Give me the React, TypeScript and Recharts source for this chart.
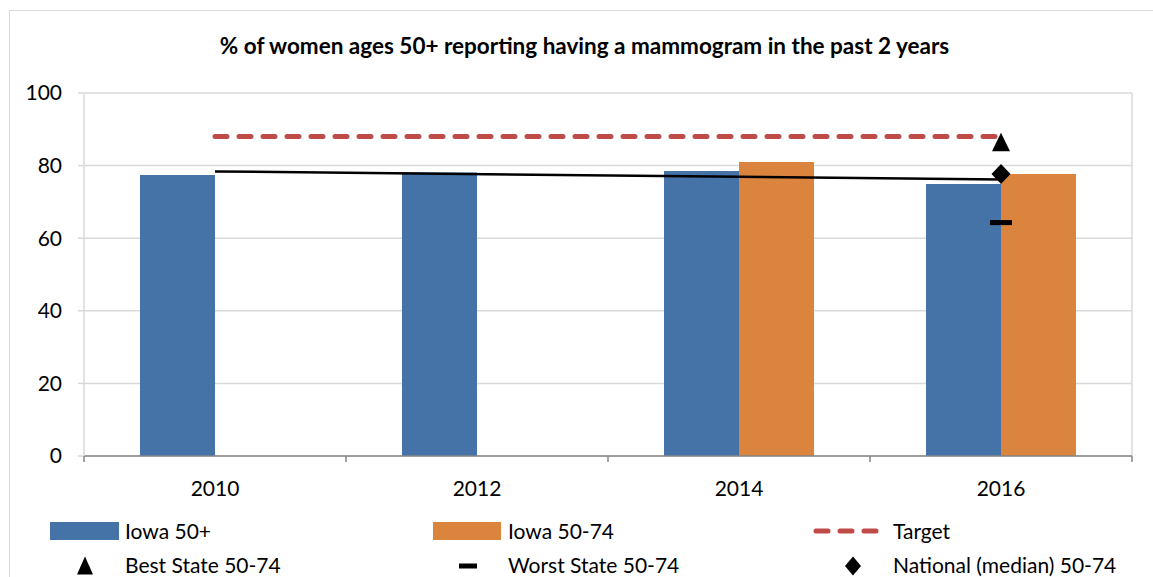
import { Bar, CartesianGrid, ComposedChart, Line, XAxis, YAxis } from "recharts";

const years = ["2010", "2012", "2014", "2016"];
const iowa50Plus = [77.4, 78.1, 78.5, 74.9];
const iowa5074: (number | null)[] = [null, null, 81.0, 77.7];
const target = [88, 88, 88, 88];
const trend: (number | null)[] = [78.4, null, null, 76.2];
const bestState: (number | null)[] = [null, null, null, 86.4];
const worstState: (number | null)[] = [null, null, null, 64.3];
const nationalMedian: (number | null)[] = [null, null, null, 77.7];
const yTicks = [0, 20, 40, 60, 80, 100];

const chartData = years.map((year, i) => ({
  year,
  iowa50Plus: iowa50Plus[i],
  iowa5074: iowa5074[i],
  target: target[i],
  trend: trend[i],
  best: bestState[i],
  worst: worstState[i],
  national: nationalMedian[i],
}));

const WIDTH = 1153;
const HEIGHT = 577;
const MARGIN = { top: 93, right: 21, bottom: 81, left: 24 };
const Y_AXIS_WIDTH = 60;
const PLOT_WIDTH = WIDTH - MARGIN.left - MARGIN.right - Y_AXIS_WIDTH;
const HALF_BAND = PLOT_WIDTH / years.length / 2;

const FONT = "Lato, 'Open Sans', sans-serif";
const BLUE = "#4673a7";
const ORANGE = "#db843d";
const RED = "#be4b48";
const GRID = "#d9d9d9";

function YearTick(props: any) {
  const { x, y, payload, index } = props;
  return (
    <g>
      <line x1={x - HALF_BAND} x2={x - HALF_BAND} y1={y} y2={y + 6} stroke="#868686" strokeWidth={1.5} />
      {index === years.length - 1 && (
        <line x1={x + HALF_BAND} x2={x + HALF_BAND} y1={y} y2={y + 6} stroke="#868686" strokeWidth={1.5} />
      )}
      <text x={x} y={y + 40} textAnchor="middle" fontSize={21} fontFamily={FONT} fill="#000">
        {payload.value}
      </text>
    </g>
  );
}

function isEmpty(props: any) {
  return props.value == null || props.cx == null || props.cy == null;
}

function Triangle(props: any) {
  if (isEmpty(props)) return <g key={props.index} />;
  const { cx, cy } = props;
  return (
    <path key={props.index} d={`M${cx},${cy - 9.5} L${cx + 9},${cy + 9} L${cx - 9},${cy + 9} Z`} fill="#000" />
  );
}

function Dash(props: any) {
  if (isEmpty(props)) return <g key={props.index} />;
  const { cx, cy } = props;
  return <rect key={props.index} x={cx - 11} y={cy - 2.5} width={22} height={5} fill="#000" />;
}

function Diamond(props: any) {
  if (isEmpty(props)) return <g key={props.index} />;
  const { cx, cy } = props;
  return (
    <path key={props.index} d={`M${cx},${cy - 10} L${cx + 9.5},${cy} L${cx},${cy + 10} L${cx - 9.5},${cy} Z`} fill="#000" />
  );
}

const legendText: React.CSSProperties = {
  position: "absolute",
  fontFamily: FONT,
  fontSize: 21,
  lineHeight: "20px",
  color: "#000",
  whiteSpace: "nowrap",
};

function LegendBlock() {
  return (
    <>
      <div style={{ position: "absolute", left: 50, top: 522, width: 69, height: 18, background: BLUE }} />
      <div style={{ ...legendText, left: 125, top: 521 }}>Iowa 50+</div>

      <div style={{ position: "absolute", left: 433, top: 522, width: 68, height: 18, background: ORANGE }} />
      <div style={{ ...legendText, left: 508, top: 521 }}>Iowa 50-74</div>

      <svg style={{ position: "absolute", left: 810, top: 525 }} width={72} height={12}>
        <line x1={6} x2={66} y1={6} y2={6} stroke={RED} strokeWidth={5} strokeDasharray="12 12" strokeLinecap="round" />
      </svg>
      <div style={{ ...legendText, left: 893, top: 521 }}>Target</div>

      <svg style={{ position: "absolute", left: 75, top: 556 }} width={20} height={20}>
        <path d="M10,0.5 L18,18.5 L2,18.5 Z" fill="#000" />
      </svg>
      <div style={{ ...legendText, left: 125, top: 555 }}>Best State 50-74</div>

      <svg style={{ position: "absolute", left: 458, top: 556 }} width={20} height={20}>
        <rect x={1} y={7.5} width={18} height={5} fill="#000" />
      </svg>
      <div style={{ ...legendText, left: 508, top: 555 }}>Worst State 50-74</div>

      <svg style={{ position: "absolute", left: 843, top: 556 }} width={20} height={20}>
        <path d="M10,0.5 L18,10 L10,19.5 L2,10 Z" fill="#000" />
      </svg>
      <div style={{ ...legendText, left: 893, top: 555 }}>National (median) 50-74</div>
    </>
  );
}

export default function App() {
  return (
    <div
      style={{
        position: "absolute",
        left: 0,
        top: 0,
        width: WIDTH,
        height: HEIGHT,
        overflow: "hidden",
        background: "#fff",
      }}
    >
      <div
        style={{
          position: "absolute",
          left: 9,
          top: 10,
          width: 1170,
          height: 620,
          border: `1.5px solid ${GRID}`,
        }}
      />
      <div
        style={{
          position: "absolute",
          left: 0,
          top: 32,
          width: 1169,
          textAlign: "center",
          fontFamily: FONT,
          fontWeight: 700,
          fontSize: 22.5,
          lineHeight: "28px",
          color: "#000",
        }}
      >
        % of women ages 50+ reporting having a mammogram in the past 2 years
      </div>
      <div style={{ position: "absolute", left: 0, top: 0 }}>
        <ComposedChart
          width={WIDTH}
          height={HEIGHT}
          data={chartData}
          margin={MARGIN}
          barCategoryGap={56}
          barGap={0}
        >
          <CartesianGrid
            stroke={GRID}
            strokeWidth={1.5}
            verticalCoordinatesGenerator={({ offset }: any) => [offset.left + offset.width]}
          />
          <XAxis
            dataKey="year"
            height={40}
            axisLine={{ stroke: "#868686", strokeWidth: 1.5 }}
            tickLine={false}
            tickSize={0}
            tickMargin={0}
            interval={0}
            tick={<YearTick />}
          />
          <YAxis
            width={Y_AXIS_WIDTH}
            domain={[0, 100]}
            ticks={yTicks}
            axisLine={{ stroke: GRID, strokeWidth: 1.5 }}
            tickLine={{ stroke: GRID, strokeWidth: 1.5 }}
            tickSize={6}
            tickMargin={16}
            tick={{ fill: "#000", fontSize: 21, fontFamily: FONT }}
          />
          <Bar dataKey="iowa50Plus" fill={BLUE} isAnimationActive={false} />
          <Bar dataKey="iowa5074" fill={ORANGE} isAnimationActive={false} />
          <Line
            dataKey="target"
            stroke={RED}
            strokeWidth={5}
            strokeDasharray="12 12"
            strokeLinecap="round"
            dot={false}
            activeDot={false}
            isAnimationActive={false}
          />
          <Line
            dataKey="trend"
            stroke="#000"
            strokeWidth={2.5}
            connectNulls
            dot={false}
            activeDot={false}
            isAnimationActive={false}
          />
          <Line dataKey="best" stroke="none" dot={Triangle} activeDot={false} isAnimationActive={false} />
          <Line dataKey="national" stroke="none" dot={Diamond} activeDot={false} isAnimationActive={false} />
          <Line dataKey="worst" stroke="none" dot={Dash} activeDot={false} isAnimationActive={false} />
        </ComposedChart>
      </div>
      <LegendBlock />
    </div>
  );
}
